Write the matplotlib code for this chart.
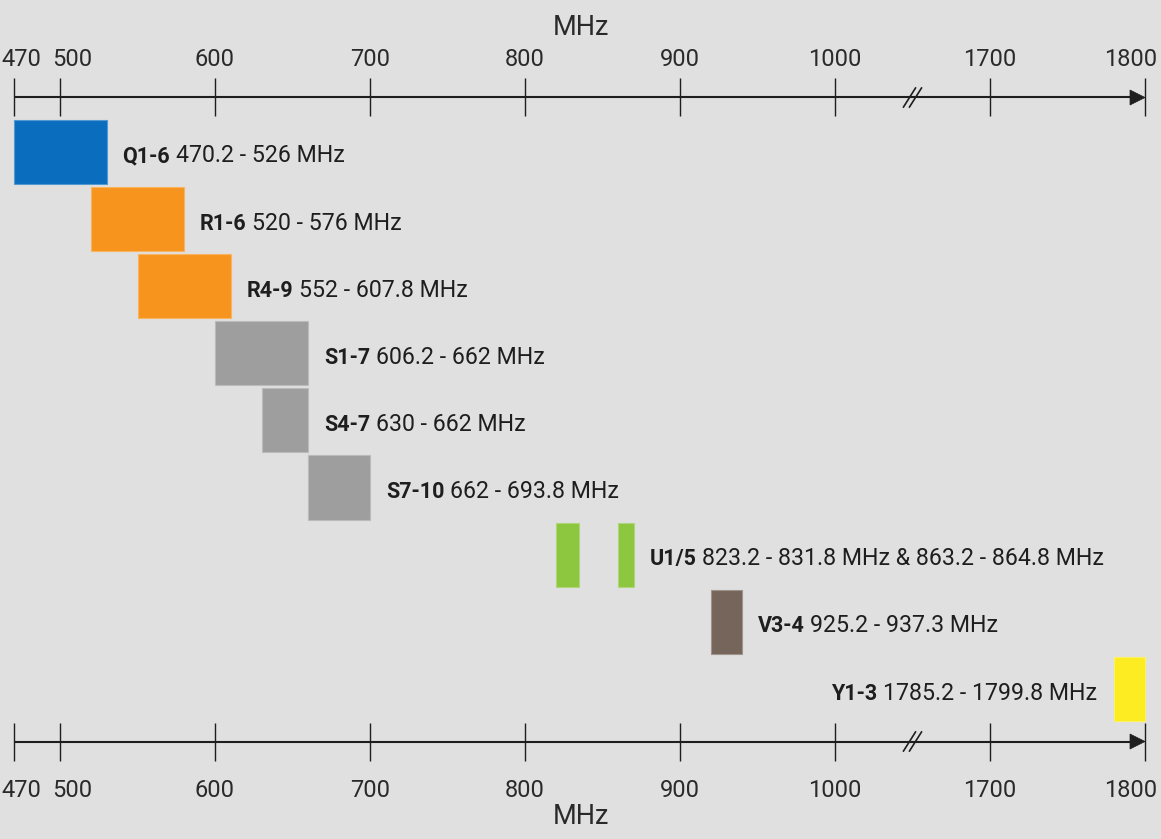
import numpy as np
import matplotlib.pyplot as plt
from matplotlib.colors import to_rgb
from matplotlib.patches import Rectangle, Polygon

plt.rcParams['font.family'] = ['Roboto', 'DejaVu Sans']

# frequency bands, top to bottom
band_names = ["Q1-6", "R1-6", "R4-9", "S1-7", "S4-7", "S7-10", "U1/5", "V3-4", "Y1-3"]
band_ranges = ["470.2 - 526 MHz", "520 - 576 MHz", "552 - 607.8 MHz",
               "606.2 - 662 MHz", "630 - 662 MHz", "662 - 693.8 MHz",
               "823.2 - 831.8 MHz & 863.2 - 864.8 MHz", "925.2 - 937.3 MHz",
               "1785.2 - 1799.8 MHz"]
# extents of the drawn blocks (MHz)
bar_lo = [[470], [520], [550], [600], [630], [660], [820, 860], [920], [1780]]
bar_hi = [[530], [580], [610], [660], [660], [700], [835, 870], [940], [1800]]
band_colors = ["#0a6dbd", "#f7941e", "#f7941e", "#9e9e9e", "#9e9e9e", "#9e9e9e",
               "#8dc63f", "#76655a", "#fcec21"]
label_side = ["right"] * 8 + ["left"]

tick_values = [470, 500, 600, 700, 800, 900, 1000, 1700, 1800]
tick_shift_px = [8, 12, 0, 0, 0, 0, 0, 0, -14]

# the axis jumps from 1000 to 1700
break_lo = 1000
gap_removed = 600

BG = "#e0e0e0"
INK = "#1e1e1e"
PX_X = 1.55    # pixels per MHz
PX_Y = 67.1    # pixels per row


def eff(f):
    return f if f <= break_lo else f - gap_removed


def dx(px):
    return px / PX_X


def dy(px):
    return px / PX_Y


def lighten(c, amt=0.3):
    r = np.array(to_rgb(c))
    return tuple(r + (1 - r) * amt)


fig = plt.figure(figsize=(11.61, 8.39), dpi=100, facecolor=BG)
ax = fig.add_axes([0, 0, 1, 1])
ax.set_axis_off()
ax.set_facecolor(BG)
ax.set_xlim(470 - dx(13.5), 470 + dx(1161 - 13.5))
ax.set_ylim(dy(839 - 152), dy(-152))

bar_h = dy(64)
for i, name in enumerate(band_names):
    for lo, hi in zip(bar_lo[i], bar_hi[i]):
        ax.add_patch(Rectangle((eff(lo), i - bar_h / 2), eff(hi) - eff(lo), bar_h,
                               facecolor=band_colors[i], edgecolor=lighten(band_colors[i]),
                               lw=0.8))
    ty = i + dy(2)
    if label_side[i] == "right":
        x0 = eff(bar_hi[i][-1])
        t1 = ax.annotate(name, xy=(x0, ty), xytext=(11.5, 0), textcoords='offset points',
                         ha='left', va='center_baseline', fontsize=15.5, weight='bold', color=INK)
        ax.annotate(band_ranges[i], xy=(1, 0), xycoords=t1, xytext=(4, 0),
                    textcoords='offset points', ha='left', va='bottom', fontsize=16.7, color=INK)
    else:
        x0 = eff(bar_lo[i][0])
        t2 = ax.annotate(band_ranges[i], xy=(x0, ty), xytext=(-12.2, 0), textcoords='offset points',
                         ha='right', va='center_baseline', fontsize=16.7, color=INK)
        ax.annotate(name, xy=(0, 0), xycoords=t2, xytext=(-4, 0),
                    textcoords='offset points', ha='right', va='bottom', fontsize=15.5,
                    weight='bold', color=INK)

# frequency axes above and below
x_start = eff(tick_values[0])
x_end = eff(tick_values[-1])
x_break = (eff(break_lo) + eff(tick_values[-2])) / 2
for y_axis, y_lab, y_unit in [(dy(97.5 - 152), dy(56.7 - 152), dy(25 - 152)),
                              (dy(741.5 - 152), dy(788 - 152), dy(813 - 152))]:
    ax.plot([x_start, x_end - dx(12)], [y_axis, y_axis], color=INK, lw=1.5,
            solid_capstyle='butt')
    ax.add_patch(Polygon([(x_end, y_axis), (x_end - dx(15), y_axis - dy(7.5)),
                          (x_end - dx(15), y_axis + dy(7.5))], closed=True,
                         facecolor=INK, edgecolor=INK, lw=0.5))
    ax.vlines([eff(v) for v in tick_values], y_axis - dy(19), y_axis + dy(19),
              color=INK, lw=1.0)
    for off in (-3, 3):
        ax.plot([x_break + dx(off - 6), x_break + dx(off + 6)],
                [y_axis + dy(9.5), y_axis - dy(9.5)], color=INK, lw=1.2)
    for v, s in zip(tick_values, tick_shift_px):
        ax.text(eff(v) + dx(s), y_lab, str(v), ha='center', va='center_baseline',
                fontsize=17, color="#2a2a2a")
    ax.text(0.5, y_unit, "MHz", transform=ax.get_yaxis_transform(), ha='center',
            va='center_baseline', fontsize=19.5, color="#2a2a2a")

fig.savefig("out.png", dpi=100, facecolor=BG)
